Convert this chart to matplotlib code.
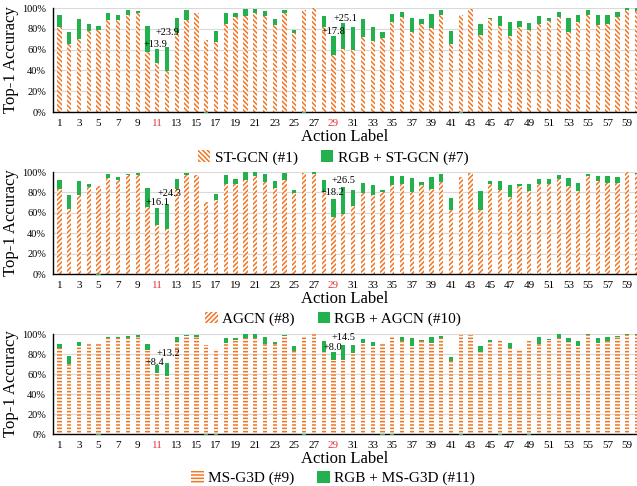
import numpy as np
import matplotlib
matplotlib.use("Agg")
import matplotlib.pyplot as plt
from matplotlib.patches import Patch

plt.rcParams['font.family'] = 'Liberation Serif'
plt.rcParams['hatch.linewidth'] = 1.1

labels = np.arange(1, 61)

# panel 1: ST-GCN (#1) vs RGB + ST-GCN (#7)
stgcn = [82, 65.5, 70, 78, 79, 88, 88.5, 93.5, 95.5, 58,
         47, 39, 76, 88.5, 95, 69, 67, 85, 91, 92,
         95.5, 92, 84, 95, 76, 98, 100, 82, 55, 60.4,
         60, 72, 68.7, 71, 87, 91.7, 77, 85, 80.5, 93,
         65.5, 93, 99, 74, 89, 83, 73.5, 82, 79, 85,
         87.5, 91.7, 77, 87, 93, 84, 85, 91.7, 98, 97]
rgb_stgcn = [93, 77, 89, 85, 83, 95, 93.6, 98, 97.4, 83,
             60.9, 62.9, 90, 98, 95, 68, 78, 95, 95.5, 98.7,
             99, 97, 89.5, 98, 79, 97, 100, 92.6, 72.8, 85.5,
             82, 89.5, 82, 76.7, 94, 96, 90, 89, 94, 98,
             78, 92, 99, 85, 90.4, 92.6, 86.6, 87.5, 86, 92.6,
             90, 96, 90, 93, 98, 93, 93.6, 96.5, 100, 100]

# panel 2: AGCN (#8) vs RGB + AGCN (#10)
agcn = [83.7, 63.5, 77, 85, 86, 94.5, 92, 96.7, 96.7, 65.8,
        48.5, 44.6, 83.7, 96.7, 96.7, 70.7, 73, 88.6, 88, 92.5,
        96, 90, 84.7, 92.5, 79, 99, 98.4, 80, 55.4, 58.6,
        66.4, 79.5, 77, 80.5, 87, 88.6, 80.5, 87, 83.7, 90,
        62.5, 95, 99, 62.5, 88.6, 82.7, 75.6, 86, 81, 88,
        88.6, 93.5, 86, 81, 95.8, 91, 89, 89.6, 100, 98]
rgb_agcn = [91.9, 77, 91, 88.6, 85, 97.7, 95, 98.4, 99, 84.7,
            64.6, 68.9, 93.5, 99, 96.7, 70.7, 78, 96.7, 93.5, 100,
            100, 97.7, 91, 99, 82.7, 99, 100, 92.3, 73.6, 85.1,
            82.7, 89, 87, 82.7, 95.8, 96, 94, 90, 95, 97.7,
            74.6, 95, 99, 81.4, 91, 91, 87.6, 88.6, 88, 92.8,
            93.5, 96.7, 94, 89.6, 98.4, 96, 95.8, 95, 100, 99]

# panel 3: MS-G3D (#9) vs RGB + MS-G3D (#11)
msg3d = [85.7, 70, 88, 90.7, 89.7, 95.7, 95.7, 95.7, 96.7, 84,
         60.7, 58, 92.3, 98.3, 96.7, 89, 84.7, 91.3, 94, 95.7,
         95.7, 90, 89.7, 98, 83.3, 98, 100, 82.3, 74.5, 74.5,
         81.3, 90.7, 88, 89.7, 96.7, 93.3, 88, 93.3, 91.3, 96.3,
         73.3, 99, 99, 82.3, 92.3, 94, 85.7, 84.7, 93.3, 90,
         94, 95.7, 91.7, 88, 98.7, 90.7, 93, 97.3, 99.3, 99]
rgb_msg3d = [90, 78.3, 91.7, 91.3, 88.7, 97.3, 96.7, 98, 99, 90,
             69.1, 71.2, 96.7, 99, 99, 88, 83.7, 96.3, 96.3, 100,
             100, 97.3, 92.3, 99, 88, 97, 100, 93.3, 82.5, 89,
             89, 94.7, 92.3, 88.7, 95.7, 96.7, 95.7, 94, 97.3, 98.3,
             77.3, 98, 99, 88, 94, 93, 91.3, 84.7, 92.3, 96.7,
             95.3, 99.7, 95.7, 93.3, 100, 95.7, 97.3, 98.3, 100, 100]

panels = [
    (stgcn, rgb_stgcn, 'ST-GCN (#1)', 'RGB + ST-GCN (#7)', '\\' * 7,
     [(11, '+13.9', 10.8, 65), (12, '+23.9', 12.0, 76), (29, '+17.8', 29.0, 77), (30, '+25.1', 30.2, 90)]),
    (agcn, rgb_agcn, 'AGCN (#8)', 'RGB + AGCN (#10)', '/' * 7,
     [(11, '+16.1', 11.0, 70), (12, '+24.3', 12.2, 79), (29, '+18.2', 28.9, 79.5), (30, '+26.5', 30.0, 91.5)]),
    (msg3d, rgb_msg3d, 'MS-G3D (#9)', 'RGB + MS-G3D (#11)', '-' * 5,
     [(11, '+8.4', 10.8, 72), (12, '+13.2', 12.1, 81), (29, '+8.0', 28.9, 87), (30, '+14.5', 30.0, 97)]),
]

orange = '#f27522'
green = '#22b14c'
tops = [8, 172, 334]
bottoms = [112, 274, 434]
W, H = 637, 486

fig = plt.figure(figsize=(6.37, 4.86), dpi=100)

for (base, fused, name1, name2, hatch, notes), top, bot in zip(panels, tops, bottoms):
    ax = fig.add_axes([53 / W, 1 - bot / H, 1 - 53 / W, (bot - top) / H])
    base = np.array(base)
    fused = np.array(fused)
    diff = fused - base
    ax.bar(labels, base, width=0.44, color='white', edgecolor=orange,
           hatch=hatch, linewidth=0, zorder=2)
    pos = diff > 0
    ax.bar(labels[pos], diff[pos], bottom=base[pos], width=0.44,
           color=green, linewidth=0, zorder=3)
    neg = diff < 0
    ax.bar(labels[neg], diff[neg], bottom=0, width=0.44, color=green,
           linewidth=0, zorder=3, clip_on=False)

    for _, txt, xt, yt in notes:
        ax.text(xt, yt, txt, ha='center', va='center', fontsize=7.5, zorder=5)

    ax.set_xlim(0.35, 60.0)
    ax.set_ylim(0, 100)
    ax.set_yticks(range(0, 101, 20))
    ax.set_yticklabels([f'{v}%' for v in range(0, 101, 20)], fontsize=7.5)
    ax.set_xticks(labels[::2])
    ax.set_xticklabels([str(v) for v in labels[::2]], fontsize=8)
    for t in ax.get_xticklabels():
        if t.get_text() in ('11', '29'):
            t.set_color('#e8303a')
    ax.tick_params(length=0, pad=5)
    ax.grid(axis='y', color='#d9d9d9', linewidth=0.8, zorder=0)
    ax.set_axisbelow(True)
    for s in ('top', 'right'):
        ax.spines[s].set_visible(False)
    ax.spines['left'].set_linewidth(1.0)
    ax.spines['bottom'].set_linewidth(1.0)
    ax.set_ylabel('Top-1 Accuracy', fontsize=12, labelpad=2)
    ax.set_xlabel('Action Label', fontsize=12, labelpad=1)

    handles = [Patch(facecolor='white', edgecolor=orange, hatch=hatch, linewidth=0),
               Patch(facecolor=green, linewidth=0)]
    ax.legend(handles, [name1, name2], loc='upper center',
              bbox_to_anchor=(0.48, -0.31), ncol=2, frameon=False,
              fontsize=11, handlelength=0.8, handleheight=0.8,
              handletextpad=0.3, columnspacing=1.5, borderaxespad=0)

fig.savefig('out.png', dpi=100)
